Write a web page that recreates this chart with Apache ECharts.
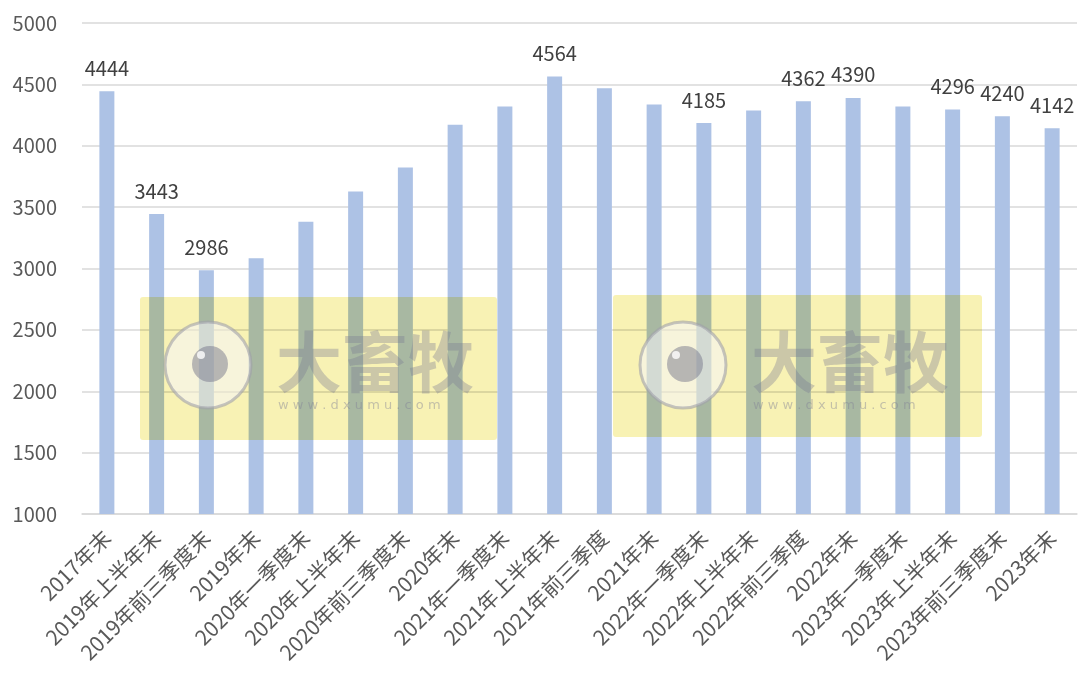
<!DOCTYPE html>
<html>
<head>
<meta charset="utf-8">
<script src="https://cdn.jsdelivr.net/npm/echarts@6/dist/echarts.min.js"></script>
<style>
html,body{margin:0;padding:0;background:#fff;}
#chart{width:1080px;height:684px;}
</style>
</head>
<body>
<div id="chart"></div>
<script>
var categories = ['2017年末','2019年上半年末','2019年前三季度末','2019年末','2020年一季度末','2020年上半年末','2020年前三季度末','2020年末','2021年一季度末','2021年上半年末','2021年前三季度','2021年末','2022年一季度末','2022年上半年末','2022年前三季度','2022年末','2023年一季度末','2023年上半年末','2023年前三季度末','2023年末'];
var values = [4444,3443,2986,3083,3381,3628,3823,4171,4320,4564,4468,4336,4185,4287,4362,4390,4320,4296,4240,4142];
var labeled = [true,true,true,false,false,false,false,false,false,true,false,false,true,false,true,true,false,true,true,true];
var yTicks = {min:1000, max:5000, interval:500};

var font = '"Noto Sans CJK SC","Noto Sans",sans-serif';
var chart = echarts.init(document.getElementById('chart'));

function watermark(cx, rx, ry, rw, rh) {
  var tx = cx + 68;
  return [
    {type:'rect', z:100, shape:{x:rx, y:ry, width:rw, height:rh, r:3},
     style:{fill:'#f8f2b4', blend:'multiply'}},
    {type:'circle', z:101, shape:{cx:cx, cy:365, r:43},
     style:{fill:'rgba(245,245,252,0.55)', stroke:'rgba(160,160,170,0.6)', lineWidth:3}},
    {type:'circle', z:102, shape:{cx:cx+2, cy:364, r:18},
     style:{fill:'rgba(120,120,140,0.5)'}},
    {type:'circle', z:103, shape:{cx:cx-7, cy:355, r:4},
     style:{fill:'rgba(255,255,255,0.8)'}},
    {type:'text', z:102, x:tx, y:362,
     style:{text:'大畜牧', font:'bold 66px "Noto Sans CJK SC"', fill:'rgba(120,120,145,0.35)', verticalAlign:'middle'}},
    {type:'text', z:102, x:tx+2, y:406,
     style:{text:'w w w . d x u m u . c o m', font:'13px "DejaVu Sans"', fill:'rgba(130,130,150,0.45)', verticalAlign:'middle'}}
  ];
}

chart.setOption({
  backgroundColor:'#ffffff',
  animation:false,
  grid:{left:82, right:3, top:23, bottom:170},
  xAxis:{
    type:'category',
    data:categories,
    axisLine:{lineStyle:{color:'#d9d9d9', width:1.5}},
    axisTick:{show:false},
    axisLabel:{interval:0, rotate:45, margin:20, color:'#595959', fontSize:21, fontFamily:font}
  },
  yAxis:{
    type:'value',
    min:yTicks.min, max:yTicks.max, interval:yTicks.interval,
    axisLine:{show:false},
    axisTick:{show:false},
    splitLine:{lineStyle:{color:'#d9d9d9', width:1.5}},
    axisLabel:{margin:25, color:'#595959', fontSize:20, fontFamily:font,
      formatter:function(v){return String(v);}}
  },
  series:[{
    type:'bar',
    barWidth:15,
    itemStyle:{color:'#adc2e5'},
    data:values.map(function(v,i){
      return {value:v, label:{show:labeled[i]}};
    }),
    label:{position:'top', distance:13, color:'#404040', fontSize:20, fontFamily:font}
  }],
  graphic: watermark(208, 140, 297, 357, 143).concat(watermark(683, 613, 295, 369, 142))
});
</script>
</body>
</html>
